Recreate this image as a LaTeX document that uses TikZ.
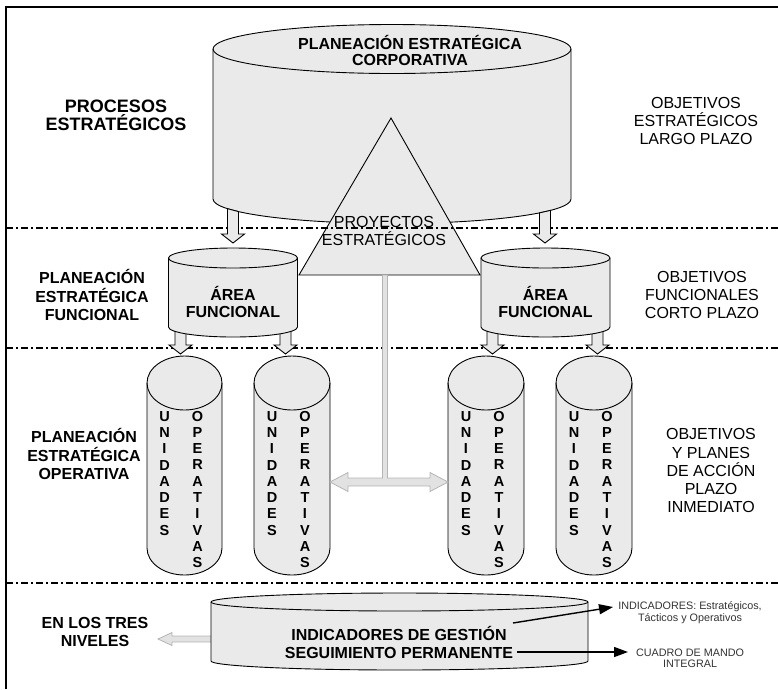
\documentclass[tikz,border=0pt]{standalone}
\usepackage{fontspec}
\setmainfont{Liberation Sans}
\usetikzlibrary{arrows.meta,calc}
\definecolor{cylfill}{RGB}{234,234,234}
\definecolor{gline}{RGB}{180,180,180}
\definecolor{gfill}{RGB}{226,226,226}
\newcommand{\cylshape}[5]{% cx, rx, top centre y, bottom centre y, ry
  \filldraw[cylstyle] ({#1-#2},{-#3}) -- ({#1-#2},{-#4})
    arc[start angle=180,end angle=360,x radius=#2,y radius=#5] -- ({#1+#2},{-#3})
    arc[start angle=0,end angle=180,x radius=#2,y radius=#5] -- cycle;
  \draw[cylstyle,fill=none] ({#1+#2},{-#3}) arc[start angle=0,end angle=-180,x radius=#2,y radius=#5];
}
\newcommand{\blockdown}[6]{% x centre, tip y, cyl cx, cyl rx, cyl bottom cy, cyl ry
  \filldraw[blockarrow]
    ({#1-5.5},{-(#5+#6*sqrt(1-((#1-5.5-#3)/#4)^2))}) -- ({#1-5.5},{-(#2-9)}) -- ({#1-11.5},{-(#2-9)})
    -- (#1,-#2) -- ({#1+11.5},{-(#2-9)}) -- ({#1+5.5},{-(#2-9)})
    -- ({#1+5.5},{-(#5+#6*sqrt(1-((#1+5.5-#3)/#4)^2))}) -- cycle;
}
\tikzset{
  cylstyle/.style={draw=black,fill=cylfill,line width=0.9pt},
  blockarrow/.style={draw=black,fill=cylfill,line width=0.9pt,line join=miter},
  divline/.style={draw=black,line width=1.4pt,dash pattern=on 7pt off 3pt on 2pt off 3pt},
  grayarrow/.style={draw=gline,fill=gfill,line width=0.8pt,line join=miter},
  blkarrow/.style={draw=black,line width=1.4pt,-{Triangle[length=14pt,width=10pt]}},
  lblb/.style={align=center,inner sep=0pt,font=\bfseries\fontsize{16}{18.5}\selectfont},
  lblr/.style={align=center,inner sep=0pt,font=\fontsize{16}{18.3}\selectfont},
  letcol/.style={align=center,inner sep=0pt,font=\bfseries\fontsize{14.5}{16.3}\selectfont},
  smalllbl/.style={align=center,inner sep=0pt,text=black!80,font=\fontsize{10.8}{11.8}\selectfont},
}
\begin{document}
\begin{tikzpicture}[x=1pt,y=1pt]
\useasboundingbox (0,0) rectangle (778,-689);
% frame
\draw[line width=2pt] (6,-689) -- (6,-7) -- (778,-7);
% top cylinder and triangle
\cylshape{392}{179}{49}{199}{24.5}
\filldraw[cylstyle,line join=miter] (299,-275) -- (391,-118) -- (480,-275) -- cycle;
% dividing lines
\draw[divline] (6,-228) -- (778,-228);
\draw[divline] (6,-348) -- (778,-348);
\draw[divline] (6,-583) -- (778,-583);
% block arrows
\blockdown{233}{243}{392}{179}{199}{24.5}
\blockdown{545}{243}{392}{179}{199}{24.5}
\blockdown{180.5}{354}{233}{64.5}{318}{10}
\blockdown{285.5}{354}{233}{64.5}{318}{10}
\blockdown{492.5}{354}{545.5}{64.5}{318}{10}
\blockdown{597.5}{354}{545.5}{64.5}{318}{10}
% functional area cylinders
\cylshape{233}{64.5}{258}{327}{10}
\cylshape{545.5}{64.5}{258}{327}{10}
% operative unit cylinders
\cylshape{184.5}{37.5}{383}{548}{27}
\cylshape{292}{38}{383}{548}{27}
\cylshape{486}{38}{383}{548}{27}
\cylshape{594}{38}{383}{548}{27}
% grey connector from the triangle
\coordinate (cbase) at (385,-275);
\coordinate (cjoin) at (385,-482);
\filldraw[grayarrow] (330,-482) -- (348,-472.5) -- (348,-478) -- ($(cjoin)+(-2.5,4)$) -- ($(cbase)+(-2.5,0)$)
  -- ($(cbase)+(2.5,0)$) -- ($(cjoin)+(2.5,4)$) -- (430,-478) -- (430,-472.5) -- (448,-482)
  -- (430,-491.5) -- (430,-486) -- (348,-486) -- (348,-491.5) -- cycle;
% bottom grey arrow and cylinder
\filldraw[grayarrow] (212,-636) -- (172,-636) -- (172,-632.5) -- (158,-639) -- (172,-645.5) -- (172,-642) -- (212,-642) -- cycle;
\cylshape{399.5}{188.5}{602}{661}{9}
% texts
\node[lblb,font=\bfseries\fontsize{18}{18}\selectfont] (procesos) at (116,-115) {PROCESOS\\ESTRATÉGICOS};
\node[lblb,font=\bfseries\fontsize{16}{16.5}\selectfont] (corp) at (410,-50.4) {PLANEACIÓN ESTRATÉGICA\\CORPORATIVA};
\node[lblr,font=\fontsize{16}{18}\selectfont] (objlargo) at (696,-120.5) {OBJETIVOS\\ESTRATÉGICOS\\LARGO PLAZO};
\node[lblr,font=\fontsize{16}{18}\selectfont] (proy) at (384,-231) {PROYECTOS\\ESTRATÉGICOS};
\node[lblb,font=\bfseries\fontsize{16}{16.5}\selectfont] (area1) at (233,-302) {ÁREA\\FUNCIONAL};
\node[lblb,font=\bfseries\fontsize{16}{16.5}\selectfont] (area2) at (545.5,-302) {ÁREA\\FUNCIONAL};
\node[lblb] (pefun) at (92,-295.2) {PLANEACIÓN\\ESTRATÉGICA\\FUNCIONAL};
\node[lblr,font=\fontsize{16}{18}\selectfont] (objfun) at (702,-295) {OBJETIVOS\\FUNCIONALES\\CORTO PLAZO};
\node[lblb] (peop) at (84,-454.4) {PLANEACIÓN\\ESTRATÉGICA\\OPERATIVA};
\node[lblr] (objinm) at (711,-470.8) {OBJETIVOS\\Y PLANES\\DE ACCIÓN\\PLAZO\\INMEDIATO};
\node[lblb,font=\bfseries\fontsize{16}{18}\selectfont] (tres) at (95,-632) {EN LOS TRES\\NIVELES};
\node[lblb,font=\bfseries\fontsize{16}{18}\selectfont] (ind) at (399,-642.7) {INDICADORES DE GESTIÓN\\SEGUIMIENTO PERMANENTE};
\node[smalllbl] (indlbl) at (690,-612.9) {INDICADORES: Estratégicos,\\Tácticos y Operativos};
\node[smalllbl] (cmi) at (690,-658.3) {CUADRO DE MANDO\\INTEGRAL};
% vertical letters
\foreach \cx [count=\i] in {184.5,292,486,594}{
  \node[letcol] (u\i) at (\cx-20,-473.3) {U\\N\\I\\D\\A\\D\\E\\S};
  \node[letcol] (o\i) at (\cx+13,-489.4) {O\\P\\E\\R\\A\\T\\I\\V\\A\\S};
}
% black arrows
\coordinate (a1s) at (513,-623);
\coordinate (a1t) at (613,-607);
\coordinate (a2s) at (517,-652);
\coordinate (a2t) at (628,-652);
\draw[blkarrow] (a1s) -- (a1t);
\draw[blkarrow] (a2s) -- (a2t);
\end{tikzpicture}
\end{document}
